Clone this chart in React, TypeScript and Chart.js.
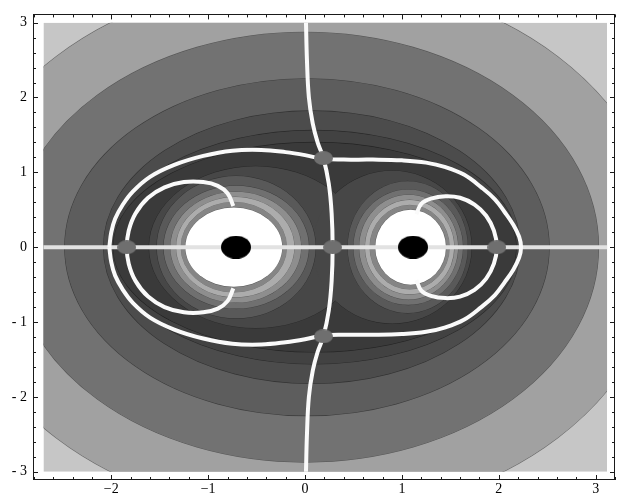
import React, { useEffect, useRef } from 'react';
import { Chart, registerables } from 'chart.js';

Chart.register(...registerables);

// ---- axes ----
const xRange = [-2.808, 3.2];
const yRange = [-3.11, 3.11];
const fillX = [-2.7, 3.118];
const fillY = [-3.0, 3.0];
const xTickValues = [-2, -1, 0, 1, 2, 3];
const yTickValues = [-3, -2, -1, 0, 1, 2, 3];

// ---- outer contour bands (ellipses centred on the x axis), outermost first ----
const backgroundShade = '#c6c6c6';
const outerCx = [0.02, 0.0, 0.02, 0.07, 0.09, 0.1];
const outerRx = [3.66, 3.03, 2.5, 2.15, 2.11, 2.08];
const outerRy = [3.6, 2.87, 2.25, 1.82, 1.56, 1.4];
const outerShades = ['#a1a1a1', '#727272', '#5d5d5d', '#4c4c4c', '#424242', '#3a3a3a'];

// ---- rings around each body, outermost first ----
const ringShades = ['#474747', '#595959', '#707070', '#8e8e8e', '#acacac', '#858585', '#ffffff'];
const leftRingCx = [-0.51, -0.71, -0.71, -0.715, -0.72, -0.735, -0.735];
const leftRingRx = [1.1, 0.82, 0.75, 0.675, 0.61, 0.545, 0.5];
const leftRingRy = [1.08, 0.95, 0.82, 0.74, 0.67, 0.6, 0.53];
const rightRingCx = [0.9, 1.06, 1.065, 1.07, 1.08, 1.08, 1.09];
const rightRingRx = [0.82, 0.62, 0.565, 0.51, 0.46, 0.41, 0.365];
const rightRingRy = [1.02, 0.88, 0.77, 0.7, 0.63, 0.56, 0.5];

// ---- white curves ----
const bigLoopX = [-2.02, -2.0, -1.96, -1.88, -1.78, -1.6, -1.35, -1.05, -0.75, -0.45, -0.2, 0.0, 0.19, 0.4, 0.7, 1.0, 1.25, 1.45, 1.64, 1.82, 1.96, 2.06, 2.15, 2.21, 2.23,
  2.21, 2.15, 2.06, 1.96, 1.82, 1.64, 1.45, 1.25, 1.0, 0.7, 0.4, 0.19, 0.0, -0.2, -0.45, -0.75, -1.05, -1.35, -1.6, -1.78, -1.88, -1.96, -2.0, -2.02];
const bigLoopY = [0.0, 0.2, 0.38, 0.57, 0.74, 0.94, 1.1, 1.22, 1.29, 1.3, 1.27, 1.23, 1.18, 1.17, 1.17, 1.16, 1.13, 1.07, 0.97, 0.8, 0.64, 0.47, 0.3, 0.14, 0.0,
  -0.14, -0.3, -0.47, -0.64, -0.8, -0.97, -1.07, -1.13, -1.16, -1.17, -1.17, -1.18, -1.23, -1.27, -1.3, -1.29, -1.22, -1.1, -0.94, -0.74, -0.57, -0.38, -0.2, 0.0];
const divideX = [0.01, 0.02, 0.04, 0.08, 0.13, 0.19, 0.245, 0.275, 0.285, 0.275, 0.245, 0.19, 0.13, 0.08, 0.04, 0.02, 0.01];
const divideY = [3.0, 2.5, 2.0, 1.65, 1.4, 1.19, 0.85, 0.45, 0.0, -0.45, -0.85, -1.19, -1.4, -1.65, -2.0, -2.5, -3.0];
const leftLoopX = [-0.74, -0.8, -0.9, -1.05, -1.25, -1.45, -1.62, -1.75, -1.82, -1.84, -1.82, -1.75, -1.62, -1.45, -1.25, -1.05, -0.9, -0.8, -0.74];
const leftLoopY = [0.55, 0.72, 0.82, 0.87, 0.87, 0.8, 0.66, 0.45, 0.22, 0.0, -0.22, -0.45, -0.66, -0.8, -0.87, -0.87, -0.82, -0.72, -0.55];
const rightLoopX = [1.15, 1.2, 1.3, 1.45, 1.6, 1.75, 1.87, 1.95, 1.98, 1.95, 1.87, 1.75, 1.6, 1.45, 1.3, 1.2, 1.15];
const rightLoopY = [0.44, 0.58, 0.65, 0.68, 0.66, 0.57, 0.42, 0.22, 0.0, -0.22, -0.42, -0.57, -0.66, -0.68, -0.65, -0.58, -0.44];
const axisLineX = [-2.7, 3.118];
const axisLineY = [0, 0];

// ---- points ----
const saddleX = [-1.84, 0.285, 1.98, 0.19, 0.19];
const saddleY = [0, 0, 0, 1.19, -1.19];
const bodyX = [-0.713, 1.115];
const bodyY = [0, 0];

const zip = (xs: number[], ys: number[]) => xs.map((x, i) => ({ x, y: ys[i] }));

function ellipseSprite(w: number, h: number, color: string) {
  const c = document.createElement('canvas');
  c.width = w;
  c.height = h;
  const g = c.getContext('2d')!;
  g.fillStyle = color;
  g.beginPath();
  g.ellipse(w / 2, h / 2, w / 2, h / 2, 0, 0, Math.PI * 2);
  g.fill();
  return c;
}

const contourPlugin = {
  id: 'contours',
  beforeDatasetsDraw(chart: any) {
    const { ctx, scales } = chart;
    const xs = scales.x, ys = scales.y;
    const px = (v: number) => xs.getPixelForValue(v);
    const py = (v: number) => ys.getPixelForValue(v);
    const x0 = px(fillX[0]), x1 = px(fillX[1]);
    const y0 = py(fillY[1]), y1 = py(fillY[0]);
    ctx.save();
    ctx.beginPath();
    ctx.rect(x0, y0, x1 - x0, y1 - y0);
    ctx.clip();
    ctx.fillStyle = backgroundShade;
    ctx.fillRect(x0, y0, x1 - x0, y1 - y0);
    const shape = (cx: number, rx: number, ry: number) => {
      const cxp = px(cx), cyp = py(0);
      ctx.beginPath();
      ctx.ellipse(cxp, cyp, Math.abs(px(cx + rx) - cxp), Math.abs(py(ry) - cyp), 0, 0, Math.PI * 2);
    };
    ctx.strokeStyle = 'rgba(0,0,0,0.45)';
    ctx.lineWidth = 1.2;
    for (let i = 0; i < outerCx.length; i++) {
      shape(outerCx[i], outerRx[i], outerRy[i]);
      ctx.stroke();
      ctx.fillStyle = outerShades[i];
      ctx.fill();
    }
    ctx.strokeStyle = 'rgba(0,0,0,0.3)';
    ctx.lineWidth = 1;
    for (let k = 0; k < ringShades.length; k++) {
      shape(leftRingCx[k], leftRingRx[k], leftRingRy[k]);
      ctx.stroke();
      shape(rightRingCx[k], rightRingRx[k], rightRingRy[k]);
      ctx.stroke();
      ctx.fillStyle = ringShades[k];
      shape(leftRingCx[k], leftRingRx[k], leftRingRy[k]);
      ctx.fill();
      shape(rightRingCx[k], rightRingRx[k], rightRingRy[k]);
      ctx.fill();
    }
    ctx.restore();
  },
};

const framePlugin = {
  id: 'frame',
  afterDraw(chart: any) {
    const { ctx, chartArea: a, scales } = chart;
    const xs = scales.x, ys = scales.y;
    ctx.save();
    ctx.strokeStyle = '#1a1a1a';
    ctx.lineWidth = 1;
    ctx.strokeRect(Math.round(a.left) + 0.5, Math.round(a.top) + 0.5, Math.round(a.right - a.left) - 1, Math.round(a.bottom - a.top) - 1);
    ctx.beginPath();
    const step = 0.2;
    for (let v = Math.ceil(xRange[0] / step) * step; v <= xRange[1] + 1e-9; v += step) {
      const major = Math.abs(v - Math.round(v)) < 1e-6;
      const len = major ? 5 : 3;
      const p = Math.round(xs.getPixelForValue(v)) + 0.5;
      ctx.moveTo(p, a.bottom);
      ctx.lineTo(p, a.bottom - len);
      ctx.moveTo(p, a.top);
      ctx.lineTo(p, a.top + len);
    }
    for (let v = Math.ceil(yRange[0] / step) * step; v <= yRange[1] + 1e-9; v += step) {
      const major = Math.abs(v - Math.round(v)) < 1e-6;
      const len = major ? 5 : 3;
      const p = Math.round(ys.getPixelForValue(v)) + 0.5;
      ctx.moveTo(a.left, p);
      ctx.lineTo(a.left + len, p);
      ctx.moveTo(a.right, p);
      ctx.lineTo(a.right - len, p);
    }
    ctx.stroke();
    ctx.restore();
  },
};

const curveStyle = {
  showLine: true,
  pointRadius: 0,
  borderColor: '#fafafa',
  borderWidth: 4,
  tension: 0.4,
  fill: false,
  order: 3,
};

export default function App() {
  const ref = useRef<HTMLCanvasElement | null>(null);
  useEffect(() => {
    if (!ref.current) return;
    const saddleSprite = ellipseSprite(19, 14, '#6f6f6f');
    const bodySprite = ellipseSprite(30, 23, '#000000');
    const font = { family: '"Liberation Serif", "DejaVu Serif", serif', size: 14 };
    const chart = new Chart(ref.current, {
      type: 'scatter',
      data: {
        datasets: [
          { ...curveStyle, data: zip(axisLineX, axisLineY), borderColor: '#e2e2e2', tension: 0, order: 4 },
          { ...curveStyle, data: zip(bigLoopX, bigLoopY) },
          { ...curveStyle, data: zip(divideX, divideY) },
          { ...curveStyle, data: zip(leftLoopX, leftLoopY) },
          { ...curveStyle, data: zip(rightLoopX, rightLoopY) },
          { data: zip(saddleX, saddleY), pointStyle: saddleSprite as any, pointRadius: 8, showLine: false, order: 2 },
          { data: zip(bodyX, bodyY), pointStyle: bodySprite as any, pointRadius: 12, showLine: false, order: 1 },
        ] as any,
      },
      options: {
        animation: false,
        responsive: false,
        maintainAspectRatio: false,
        events: [],
        layout: { autoPadding: false, padding: { top: 10, right: 4, left: 0, bottom: 0 } },
        plugins: { legend: { display: false }, tooltip: { enabled: false } },
        scales: {
          x: {
            type: 'linear',
            min: xRange[0],
            max: xRange[1],
            afterBuildTicks: (s: any) => { s.ticks = xTickValues.map((v) => ({ value: v })); },
            afterFit: (s: any) => { s.height = 19; },
            grid: { display: false, drawTicks: false },
            border: { display: false },
            ticks: {
              font,
              color: '#000',
              padding: 1,
              maxRotation: 0,
              autoSkip: false,
              callback: (v: any) => (v < 0 ? '\u2212' + Math.abs(v) : String(v)),
            },
          },
          y: {
            type: 'linear',
            min: yRange[0],
            max: yRange[1],
            afterBuildTicks: (s: any) => { s.ticks = yTickValues.map((v) => ({ value: v })); },
            afterFit: (s: any) => { s.width = 33; },
            grid: { display: false, drawTicks: false },
            border: { display: false },
            ticks: {
              font,
              color: '#000',
              padding: 6,
              autoSkip: false,
              callback: (v: any) => (v < 0 ? '- ' + Math.abs(v) : String(v)),
            },
          },
        },
      } as any,
      plugins: [contourPlugin, framePlugin],
    });
    return () => chart.destroy();
  }, []);
  return (
    <div style={{ position: 'fixed', left: 0, top: 0, width: 619, height: 499, background: '#fff' }}>
      <canvas ref={ref} width={619} height={499} style={{ display: 'block' }} />
    </div>
  );
}
